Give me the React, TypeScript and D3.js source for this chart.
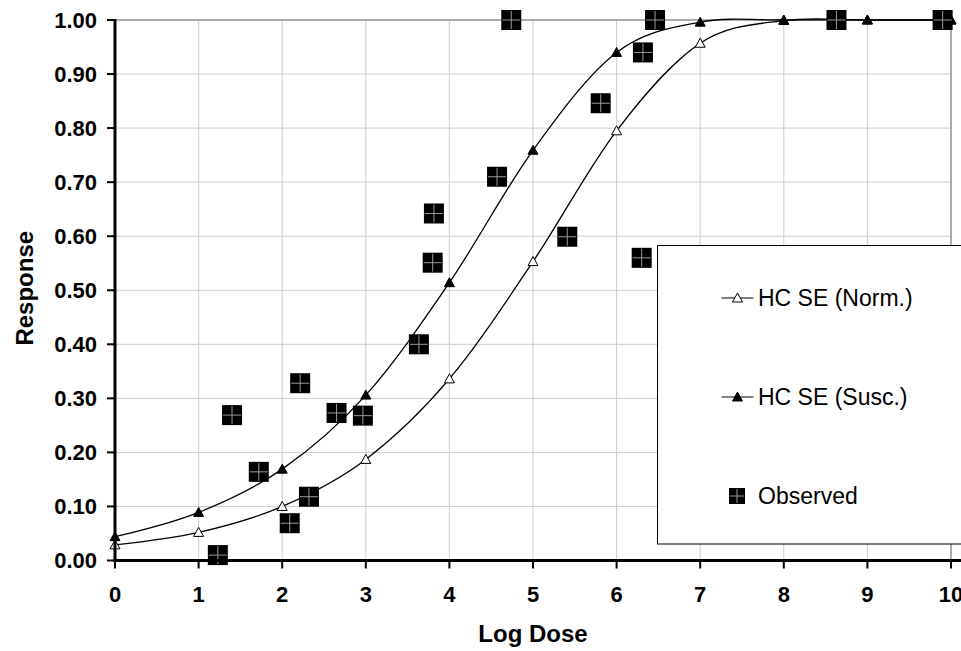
import React from "react";
import * as d3 from "d3";

const doseX = [0, 1, 2, 3, 4, 5, 6, 7, 8, 9, 10];
const normY = [0.029, 0.052, 0.1, 0.187, 0.336, 0.553, 0.795, 0.957, 0.999, 1.0, 1.0];
const suscY = [0.044, 0.089, 0.169, 0.306, 0.514, 0.759, 0.94, 0.996, 1.0, 1.0, 1.0];

const obsX = [1.23, 1.4, 1.72, 2.09, 2.215, 2.32, 2.65, 2.965, 3.635, 3.8, 3.815, 4.57, 4.74, 5.41, 5.81, 6.3, 6.315, 6.46, 8.63, 9.9];
const obsY = [0.01, 0.269, 0.164, 0.069, 0.328, 0.118, 0.273, 0.268, 0.4, 0.551, 0.642, 0.71, 1.0, 0.599, 0.846, 0.56, 0.94, 1.0, 1.0, 1.0];

const xTicks = [0, 1, 2, 3, 4, 5, 6, 7, 8, 9, 10];
const yTicks = [0, 0.1, 0.2, 0.3, 0.4, 0.5, 0.6, 0.7, 0.8, 0.9, 1.0];

const legendLabels = ["HC SE (Norm.)", "HC SE (Susc.)", "Observed"];

const W = 961;
const H = 651;
const FONT = "'Liberation Sans', Arial, Helvetica, sans-serif";

function Square({ cx, cy, s }: { cx: number; cy: number; s: number }) {
  const h = s / 2;
  return (
    <g>
      <rect x={cx - h} y={cy - h} width={s} height={s} fill="#000" />
      <line x1={cx - h + 1} x2={cx + h - 1} y1={cy} y2={cy} stroke="#999" strokeWidth={1} />
      <line x1={cx} x2={cx} y1={cy - h + 1} y2={cy + h - 1} stroke="#999" strokeWidth={1} />
    </g>
  );
}

function Tri({ cx, cy, filled }: { cx: number; cy: number; filled: boolean }) {
  const w = 5;
  const p = `M${cx},${cy - 5} L${cx + w},${cy + 4} L${cx - w},${cy + 4} Z`;
  return <path d={p} fill={filled ? "#000" : "#fff"} stroke="#000" strokeWidth={1} />;
}

export default function App() {
  const x = d3.scaleLinear().domain([0, 10]).range([115, 951]);
  const y = d3.scaleLinear().domain([0, 1]).range([560.5, 20]);

  const line = d3
    .line<number>()
    .x((_, i) => x(doseX[i]))
    .y((d) => y(d))
    .curve(d3.curveCardinal.tension(0));

  const left = x(0);
  const right = x(10);
  const top = y(1);
  const bottom = y(0);

  const lgX = 657.5;
  const lgY = 245.5;
  const lgRows = [298, 397, 496];

  return (
    <svg
      width={W}
      height={H}
      style={{ position: "absolute", left: 0, top: 0, display: "block", background: "#fff" }}
      fontFamily={FONT}
    >
      <rect x={0} y={0} width={W} height={H} fill="#fff" />
      {/* gridlines */}
      {yTicks.map((t) => (
        <line key={"gy" + t} x1={left} x2={right} y1={y(t)} y2={y(t)} stroke="#cccccc" strokeWidth={1} />
      ))}
      {xTicks.map((t) => (
        <line key={"gx" + t} x1={x(t)} x2={x(t)} y1={top} y2={bottom} stroke="#cccccc" strokeWidth={1} />
      ))}
      {/* plot border top/right */}
      <line x1={left} x2={right} y1={top} y2={top} stroke="#999" strokeWidth={1.5} />
      <line x1={right} x2={right} y1={top} y2={bottom} stroke="#999" strokeWidth={1.5} />

      {/* curves */}
      <path d={line(normY) || ""} fill="none" stroke="#000" strokeWidth={1.3} />
      <path d={line(suscY) || ""} fill="none" stroke="#000" strokeWidth={1.3} />
      {normY.map((v, i) => (
        <Tri key={"n" + i} cx={x(doseX[i])} cy={y(v)} filled={false} />
      ))}
      {suscY.map((v, i) => (
        <Tri key={"s" + i} cx={x(doseX[i])} cy={y(v)} filled={true} />
      ))}

      {/* observed */}
      {obsX.map((v, i) => (
        <Square key={"o" + i} cx={x(v)} cy={y(obsY[i])} s={20} />
      ))}

      {/* axes */}
      <line x1={left} x2={left} y1={top - 1} y2={bottom + 1.5} stroke="#000" strokeWidth={3} />
      <line x1={left - 1.5} x2={W} y1={bottom} y2={bottom} stroke="#000" strokeWidth={3} />
      {yTicks.map((t) => (
        <g key={"ty" + t}>
          <line x1={left - 8} x2={left} y1={y(t)} y2={y(t)} stroke="#000" strokeWidth={2} />
          <text
            x={97}
            y={y(t)}
            textAnchor="end"
            dominantBaseline="central"
            fontSize={22}
            fontWeight="bold"
            fill="#000"
          >
            {t.toFixed(2)}
          </text>
        </g>
      ))}
      {xTicks.map((t) => (
        <g key={"tx" + t}>
          <line x1={x(t)} x2={x(t)} y1={bottom} y2={bottom + 8} stroke="#000" strokeWidth={2} />
          <text
            x={x(t)}
            y={594}
            textAnchor="middle"
            dominantBaseline="central"
            fontSize={22}
            fontWeight="bold"
            fill="#000"
          >
            {t}
          </text>
        </g>
      ))}
      <text x={(left + right) / 2} y={633} textAnchor="middle" dominantBaseline="central" fontSize={24} fontWeight="bold">
        Log Dose
      </text>
      <text
        transform={`translate(24,${(top + bottom) / 2 - 2}) rotate(-90)`}
        textAnchor="middle"
        dominantBaseline="central"
        fontSize={24}
        fontWeight="bold"
      >
        Response
      </text>

      {/* legend */}
      <rect x={lgX} y={lgY} width={W - lgX + 10} height={544 - lgY} fill="#fff" stroke="#000" strokeWidth={1} />
      {[0, 1].map((k) => (
        <g key={"lg" + k}>
          <line x1={721.5} x2={753.5} y1={lgRows[k]} y2={lgRows[k]} stroke="#000" strokeWidth={1.2} />
          <Tri cx={737.5} cy={lgRows[k]} filled={k === 1} />
        </g>
      ))}
      <Square cx={737} cy={lgRows[2]} s={16} />
      {legendLabels.map((l, k) => (
        <text key={l} x={758} y={lgRows[k]} dominantBaseline="central" fontSize={23} fill="#000">
          {l}
        </text>
      ))}
    </svg>
  );
}
